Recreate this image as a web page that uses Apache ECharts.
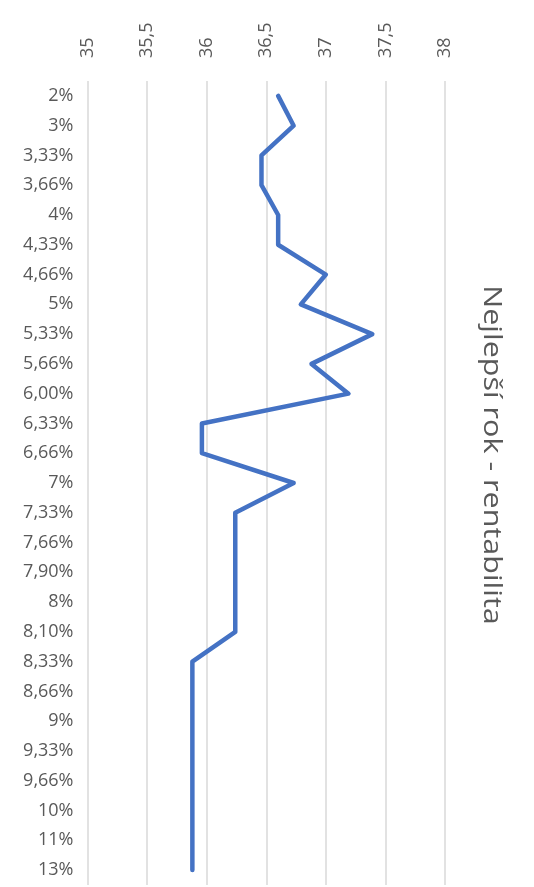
<!DOCTYPE html>
<html>
<head>
<meta charset="utf-8">
<style>
  html, body { margin: 0; padding: 0; background: #fff; }
  #chart { width: 534px; height: 887px; }
</style>
<script src="https://cdn.jsdelivr.net/npm/echarts@6/dist/echarts.min.js"></script>
</head>
<body>
<div id="chart"></div>
<script>
// Rate categories (top to bottom)
const categories = [
  '2%', '3%', '3,33%', '3,66%', '4%', '4,33%', '4,66%', '5%', '5,33%', '5,66%',
  '6,00%', '6,33%', '6,66%', '7%', '7,33%', '7,66%', '7,90%', '8%', '8,10%',
  '8,33%', '8,66%', '9%', '9,33%', '9,66%', '10%', '11%', '13%'
];

// Best-year values per rate
const values = [
  36.60, 36.73, 36.46, 36.46, 36.60, 36.60, 37.00, 36.79, 37.39, 36.88,
  37.19, 35.96, 35.96, 36.73, 36.24, 36.24, 36.24, 36.24, 36.24,
  35.88, 35.88, 35.88, 35.88, 35.88, 35.88, 35.88, 35.88
];

// Value axis range
const axisMin = 35;
const axisMax = 38;
const axisStep = 0.5;

const chartTitle = 'Nejlepší rok - rentabilita';

const fontFamily = '"Open Sans", "Noto Sans", sans-serif';
const textColor = '#595959';

const chart = echarts.init(document.getElementById('chart'));
chart.setOption({
  animation: false,
  backgroundColor: '#ffffff',
  grid: { left: 87.5, right: 89, top: 81, height: 804 },
  graphic: [{
    type: 'text',
    x: 491,
    y: 455,
    rotation: -Math.PI / 2,
    scaleX: 1.22,
    style: {
      text: chartTitle,
      font: '25px ' + fontFamily,
      fill: textColor,
      align: 'center',
      verticalAlign: 'middle'
    }
  }],
  xAxis: {
    type: 'value',
    position: 'top',
    min: axisMin,
    max: axisMax,
    interval: axisStep,
    axisLine: { show: false },
    axisTick: { show: false },
    splitLine: { show: true, lineStyle: { color: '#d9d9d9', width: 1.5 } },
    axisLabel: {
      rotate: -90,
      margin: 23,
      color: textColor,
      fontSize: 18,
      fontFamily: fontFamily,
      formatter: v => String(v).replace('.', ',')
    }
  },
  yAxis: {
    type: 'category',
    inverse: true,
    data: categories,
    boundaryGap: true,
    axisLine: { show: false },
    axisTick: { show: false },
    axisLabel: {
      margin: 14,
      color: textColor,
      fontSize: 18,
      fontFamily: fontFamily
    }
  },
  series: [{
    type: 'line',
    data: values,
    symbol: 'none',
    lineStyle: { color: '#4472C4', width: 4.5, cap: 'round', join: 'round' }
  }]
});
</script>
</body>
</html>
